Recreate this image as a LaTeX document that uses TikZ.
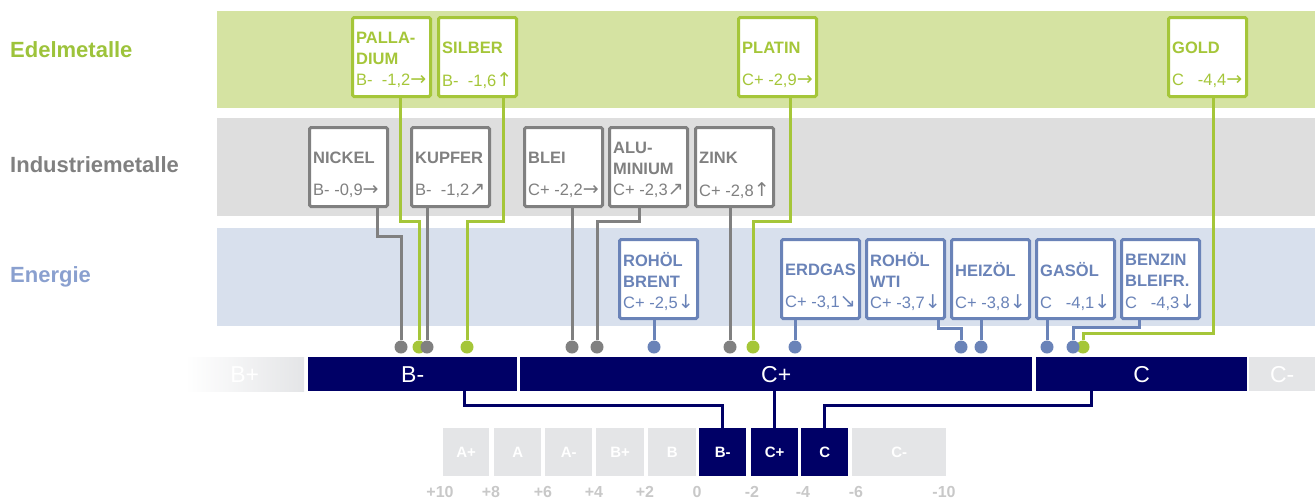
\documentclass[tikz,border=0pt]{standalone}
\usepackage{fontspec}
\setmainfont{Liberation Sans}
\newfontfamily\arrfont{DejaVu Sans}
\newcommand{\arw}[1]{{\arrfont\fontsize{19}{19}\selectfont #1}}
\definecolor{edel}{HTML}{A5C639}
\definecolor{edelband}{HTML}{D5E3A2}
\definecolor{edeltxt}{HTML}{9DC33B}
\definecolor{indu}{HTML}{808080}
\definecolor{induband}{HTML}{DEDEDE}
\definecolor{ener}{HTML}{6A83B8}
\definecolor{enerband}{HTML}{D8E0ED}
\definecolor{enertxt}{HTML}{8AA0CF}
\definecolor{navy}{HTML}{000066}
\definecolor{lgray}{HTML}{E4E5E7}
\definecolor{scalegray}{HTML}{C8C8C8}
\tikzset{
  cbox/.style={draw=#1, line width=3pt, fill=white, rounded corners=1.5pt,
    minimum width=78pt, minimum height=79pt, anchor=north west, inner sep=0pt},
  cname/.style={text=#1, anchor=west, align=left, inner sep=0pt,
    font=\fontsize{16.5}{21}\selectfont\bfseries},
  cval/.style={text=#1, anchor=west, inner sep=0pt, font=\fontsize{16.5}{19}\selectfont},
  cline/.style={draw=#1, line width=3pt},
  cdot/.style={circle, fill=#1, minimum size=13pt, inner sep=0pt},
  grouplabel/.style={text=#1, anchor=west, inner sep=0pt, font=\fontsize{22}{24}\selectfont\bfseries},
  bar/.style={fill=navy, text=white, minimum height=34pt, anchor=north west, inner sep=0pt,
    font=\fontsize{23}{25}\selectfont},
  grade/.style={fill=#1, text=white, minimum height=48pt, anchor=north west, inner sep=0pt,
    font=\fontsize{15}{17}\selectfont\bfseries},
  scalenum/.style={text=scalegray, inner sep=0pt, font=\fontsize{16}{18}\selectfont\bfseries},
  nline/.style={draw=navy, line width=3pt}
}
\begin{document}
\begin{tikzpicture}[x=1pt,y=-1pt]
\useasboundingbox (0,0) rectangle (1315,499);
\fill[edelband] (217,11) rectangle (1315,108);
\fill[induband] (217,118) rectangle (1315,216);
\fill[enerband] (217,228) rectangle (1315,326);
\node[grouplabel=edeltxt] (lEdel) at (10,50) {Edelmetalle};
\node[grouplabel=indu] (lIndu) at (10,165) {Industriemetalle};
\node[grouplabel=enertxt] (lEner) at (10,277) {Energie};

\foreach \nm/\x/\txt/\val in {
  pall/351/{PALLA-\\DIUM}/{B-~~-1,2\arw{→}},
  silb/437/SILBER/{B-~~-1,6\arw{↑}},
  plat/737/PLATIN/{C+ -2,9\arw{→}},
  gold/1167/GOLD/{C~~~-4,4\arw{→}}}
{
\node[cbox=edel] (\nm) at (\x,16) {};
\node[cname=edel] (\nm-n) at ([shift={(5,32)}]\nm.north west) {\txt};
\node[cval=edel] (\nm-v) at ([shift={(5,65)}]\nm.north west) {\val};
}
\foreach \nm/\x/\txt/\val in {
  nick/308/NICKEL/{B- -0,9\arw{→}},
  kupf/410/KUPFER/{B-~~-1,2\arw{↗}},
  blei/523/BLEI/{C+ -2,2\arw{→}},
  alu/608/{ALU-\\MINIUM}/{C+ -2,3\arw{↗}},
  zink/694/ZINK/{C+ -2,8\arw{↑}}}
{
\node[cbox=indu] (\nm) at (\x,126) {};
\node[cname=indu] (\nm-n) at ([shift={(5,32)}]\nm.north west) {\txt};
\node[cval=indu] (\nm-v) at ([shift={(5,65)}]\nm.north west) {\val};
}
\foreach \nm/\x/\txt/\val in {
  brent/618/{ROHÖL\\BRENT}/{C+ -2,5\arw{↓}},
  erdg/780/ERDGAS/{C+ -3,1\arw{↘}},
  wti/865/{ROHÖL\\WTI}/{C+ -3,7\arw{↓}},
  heiz/950/HEIZÖL/{C+ -3,8\arw{↓}},
  gasoel/1035/GASÖL/{C~~~-4,1\arw{↓}},
  benz/1120/{BENZIN\\BLEIFR.}/{C~~~-4,3\arw{↓}}}
{
\node[cbox=ener] (\nm) at (\x,238) {};
\node[cname=ener] (\nm-n) at ([shift={(5,32)}]\nm.north west) {\txt};
\node[cval=ener] (\nm-v) at ([shift={(5,65)}]\nm.north west) {\val};
}

\node[cdot=edel] (dpall) at (419,347) {};
\node[cdot=edel] (dsilb) at (467,347) {};
\node[cdot=edel] (dplat) at (753,347) {};
\node[cdot=edel] (dgold) at (1083,347) {};
\node[cdot=indu] (dnick) at (401,347) {};
\node[cdot=indu] (dkupf) at (427,347) {};
\node[cdot=indu] (dblei) at (572,347) {};
\node[cdot=indu] (dalu) at (597,347) {};
\node[cdot=indu] (dzink) at (730,347) {};
\foreach \nm/\x in {brent/654, erdg/795, wti/961, heiz/981, gasoel/1047, benz/1073}
  \node[cdot=ener] (d\nm) at (\x,347) {};

\draw[cline=edel] (pall.south -| 400,0) -- (400,221) -| (dpall);
\draw[cline=edel] (silb.south -| 503,0) -- (503,221) -| (dsilb);
\draw[cline=edel] (plat.south -| 790,0) -- (790,221) -| (dplat);
\draw[cline=edel] (gold.south -| 1213,0) -- (1213,333) -| (dgold);
\draw[cline=indu] (nick.south -| 377,0) -- (377,236) -| (dnick);
\draw[cline=indu] (kupf.south -| dkupf) -- (dkupf);
\draw[cline=indu] (blei.south -| dblei) -- (dblei);
\draw[cline=indu] (alu.south -| 639,0) -- (639,221) -| (dalu);
\draw[cline=indu] (zink.south -| dzink) -- (dzink);
\draw[cline=ener] (brent.south -| dbrent) -- (dbrent);
\draw[cline=ener] (erdg.south -| derdg) -- (derdg);
\draw[cline=ener] (wti.south -| 938,0) -- (938,328) -| (dwti);
\draw[cline=ener] (heiz.south -| dheiz) -- (dheiz);
\draw[cline=ener] (gasoel.south -| dgasoel) -- (dgasoel);
\draw[cline=ener] (benz.south -| 1139,0) -- (1139,327) -| (dbenz);

\node[bar, minimum width=119pt, fill=none, left color=white, right color=lgray] (barBp) at (185,357) {B+};
\node[bar, minimum width=209pt] (barBm) at (308,357) {B-};
\node[bar, minimum width=512pt] (barCp) at (520,357) {C+};
\node[bar, minimum width=211pt] (barC) at (1036,357) {C};
\node[bar, minimum width=66pt, fill=lgray] (barCm) at (1249,357) {C-};

\foreach \nm/\x/\w/\t/\c in {sAp/443/46/A+/lgray, sA/494/47/A/lgray, sAm/545/47/A-/lgray,
  sBp/596/48/B+/lgray, sB/648/48/B/lgray, sBm/699/47/B-/navy, sCp/751/47/C+/navy,
  sC/801/47/C/navy, sCm/852/94/C-/lgray}
  \node[grade=\c, minimum width=\w pt] (\nm) at (\x,428) {\t};

\draw[nline] (barBm.south -| 464,0) -- (464,405) -| (sBm);
\draw[nline] (sCp.north) -- (sCp.north |- barCp.south);
\draw[nline] (barC.south -| 1091,0) -- (1091,405) -| (sC);

\foreach \x/\t in {440/+10, 491/+8, 543/+6, 594/+4, 645/+2, 697/0, 752/-2, 803/-4, 856/-6, 944/-10}
  \node[scalenum] (n\x) at (\x,492) {\t};
\end{tikzpicture}
\end{document}
